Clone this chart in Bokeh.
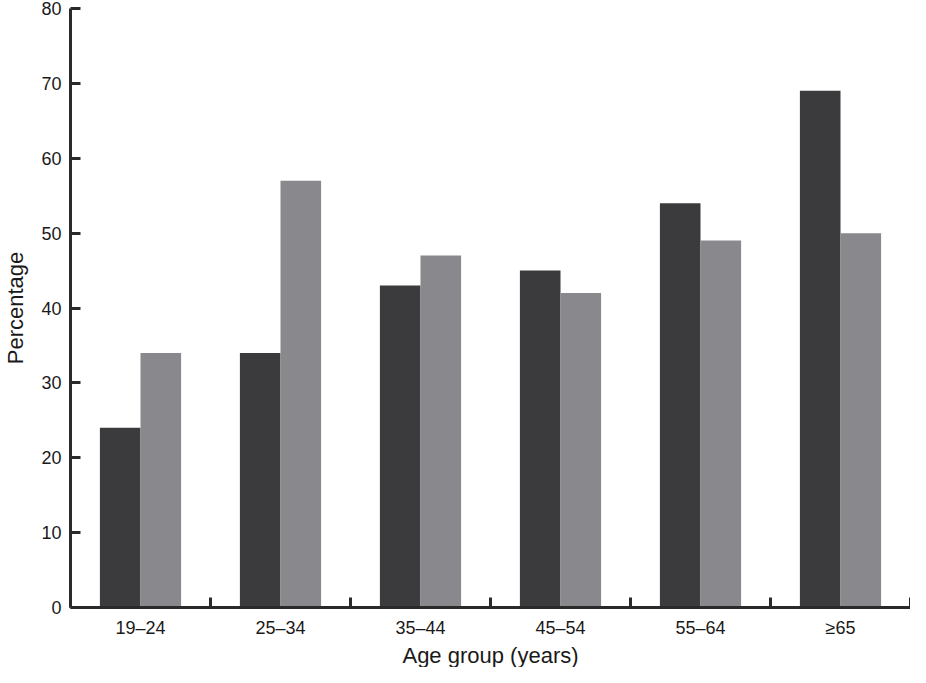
from bokeh.plotting import figure
from bokeh.models import FixedTicker, Range1d, ColumnDataSource, Title
from bokeh.embed import file_html
from bokeh.resources import INLINE

categories = ["19–24", "25–34", "35–44", "45–54", "55–64", "≥65"]
series_dark = [24, 34, 43, 45, 54, 69]
series_light = [34, 57, 47, 42, 49, 50]
y_ticks = [0, 10, 20, 30, 40, 50, 60, 70, 80]
x_title = "Age group (years)"
y_title = "Percentage"

centers = list(range(len(categories)))
bar_w = 0.29
src = ColumnDataSource(dict(
    xd=[c - bar_w / 2 for c in centers],
    xl=[c + bar_w / 2 for c in centers],
    dark=series_dark,
    light=series_light,
))

FONT = "Liberation Sans"
AX = "#2a2a2a"

p = figure(width=910, height=667, output_backend="svg", toolbar_location=None,
           x_range=Range1d(-0.5, len(categories) - 0.5), y_range=Range1d(0, 80),
           min_border_left=10, min_border_right=0, min_border_top=8, min_border_bottom=0)
p.outline_line_color = None
p.xgrid.grid_line_color = None
p.ygrid.grid_line_color = None

p.vbar(x="xd", top="dark", width=bar_w, bottom=0, source=src,
       fill_color="#3b3b3d", line_color=None)
p.vbar(x="xl", top="light", width=bar_w, bottom=0, source=src,
       fill_color="#89888c", line_color=None)

xa = p.xaxis[0]
xa.ticker = FixedTicker(ticks=centers,
                        minor_ticks=[c + 0.5 for c in range(-1, len(categories))])
xa.major_label_overrides = {c: lab for c, lab in zip(centers, categories)}
xa.major_tick_in = 0
xa.major_tick_out = 0
xa.minor_tick_in = 10
xa.minor_tick_out = 0
xa.minor_tick_line_width = 3
xa.minor_tick_line_color = AX
xa.axis_line_width = 3
xa.axis_line_color = AX
xa.major_label_text_font = FONT
xa.major_label_text_font_size = "18px"
xa.major_label_text_color = "#1a1a1a"
xa.major_label_standoff = 10

p.add_layout(Title(text=x_title, align="center", text_font=FONT, text_font_size="22px",
                   text_font_style="normal", text_color="#1a1a1a",
                   standoff=0, offset=0), "below")

ya = p.yaxis[0]
ya.ticker = FixedTicker(ticks=y_ticks, minor_ticks=[])
ya.major_tick_in = 10
ya.major_tick_out = 0
ya.major_tick_line_width = 3
ya.major_tick_line_color = AX
ya.minor_tick_line_color = None
ya.axis_line_width = 3
ya.axis_line_color = AX
ya.major_label_text_font = FONT
ya.major_label_text_font_size = "18px"
ya.major_label_text_color = "#1a1a1a"
ya.major_label_standoff = 9
ya.axis_label = y_title
ya.axis_label_text_font = FONT
ya.axis_label_text_font_size = "22px"
ya.axis_label_text_font_style = "normal"
ya.axis_label_text_color = "#1a1a1a"
ya.axis_label_standoff = 10

open("out.html", "w").write(file_html(p, INLINE))
